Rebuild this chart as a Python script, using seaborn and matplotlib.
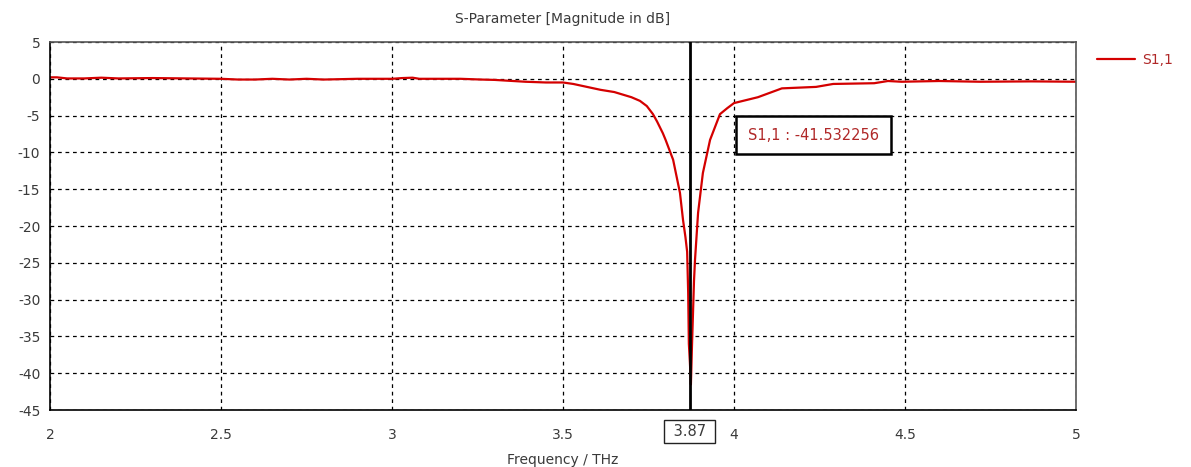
import numpy as np
import pandas as pd
import matplotlib
matplotlib.use("Agg")
import matplotlib.pyplot as plt
import seaborn as sns

# ---- data ----
freq_thz = [2.00, 2.02, 2.05, 2.10, 2.15, 2.20, 2.30, 2.40, 2.50, 2.55, 2.60, 2.65,
            2.70, 2.75, 2.80, 2.90, 3.00, 3.03, 3.06, 3.08, 3.20, 3.26, 3.30, 3.39,
            3.45, 3.50, 3.53, 3.57, 3.61, 3.65, 3.70, 3.725, 3.745, 3.763, 3.775,
            3.792, 3.800, 3.822, 3.842, 3.851, 3.858, 3.863, 3.866, 3.868, 3.871,
            3.874, 3.877, 3.880, 3.883, 3.886, 3.895, 3.909, 3.930, 3.959, 3.980,
            4.00, 4.07, 4.14, 4.24, 4.29, 4.41, 4.45, 4.49, 4.60, 4.72, 4.87, 5.00]
s11_db = [0.2, 0.2, 0.05, 0.05, 0.15, 0.05, 0.1, 0.05, 0.0, -0.1, -0.1, 0.0,
          -0.1, 0.0, -0.1, 0.0, 0.0, 0.1, 0.15, 0.0, 0.0, -0.1, -0.15, -0.4,
          -0.5, -0.5, -0.7, -1.1, -1.5, -1.8, -2.5, -3.0, -3.7, -4.8, -5.8,
          -7.4, -8.3, -11.0, -15.5, -19.2, -21.5, -23.5, -29.0, -36.0, -38.5,
          -41.532256, -36.5, -32.0, -27.5, -24.6, -18.2, -12.8, -8.3, -4.8, -4.0,
          -3.3, -2.5, -1.3, -1.1, -0.7, -0.6, -0.3, -0.4, -0.3, -0.4, -0.35, -0.4]
x_ticks = [2, 2.5, 3, 3.5, 4, 4.5, 5]
x_tick_labels = ["2", "2.5", "3", "3.5", "4", "4.5", "5"]
y_ticks = [5, 0, -5, -10, -15, -20, -25, -30, -35, -40, -45]
marker_freq = 3.87
marker_label = "3.87"
marker_value_text = "S1,1 : -41.532256"
series_name = "S1,1"

df = pd.DataFrame({"Frequency": freq_thz, "S": s11_db})

sns.set_style("white")
plt.rcParams["font.family"] = ["DejaVu Sans"]

RED = "#d40000"
TXT = "#3a3a3a"

fig = plt.figure(figsize=(11.91, 4.67), dpi=100)
ax = fig.add_axes([50 / 1191, 1 - 410 / 467, 1026 / 1191, 368 / 467])

sns.lineplot(data=df, x="Frequency", y="S", ax=ax, color=RED, linewidth=1.6,
             estimator=None, sort=False, label=series_name, legend=False)

ax.set_xlim(2, 5)
ax.set_ylim(-45, 5)
ax.set_xticks(x_ticks)
ax.set_xticklabels(x_tick_labels)
ax.set_yticks(y_ticks)
ax.set_yticklabels([str(v) for v in y_ticks])
ax.tick_params(axis="both", labelsize=10, colors=TXT, length=4, width=1,
               direction="out", pad=3)
ax.tick_params(axis="x", pad=9, color="black")
ax.tick_params(axis="y", color="black")
for lab in ax.get_xticklabels() + ax.get_yticklabels():
    lab.set_color(TXT)

ax.grid(True, color="black", linestyle=(0, (3, 3)), linewidth=0.9)
for side in ["left", "bottom"]:
    ax.spines[side].set_color("black")
    ax.spines[side].set_linewidth(1.2)
for side in ["top", "right"]:
    ax.spines[side].set_color("#555555")
    ax.spines[side].set_linewidth(1.2)
    ax.spines[side].set_visible(True)

ax.set_xlabel("Frequency / THz", fontsize=10, color=TXT, labelpad=8)
ax.set_ylabel("")
ax.set_title("S-Parameter [Magnitude in dB]", fontsize=10, color=TXT, pad=14)

# marker line
ax.axvline(marker_freq, color="black", linewidth=2, zorder=5)
ax.annotate(f" {marker_label} ", xy=(marker_freq, 0), xycoords=("data", "axes fraction"),
            xytext=(0, -15.5), textcoords="offset points", ha="center", va="center",
            fontsize=10.5, color=TXT,
            bbox=dict(boxstyle="square,pad=0.3", fc="white", ec="#222222", lw=1))

# marker value box
ax.text(0.744, 0.747, marker_value_text, transform=ax.transAxes, ha="center",
        va="center", fontsize=10.5, color="#b02828", zorder=6,
        bbox=dict(boxstyle="square,pad=0.8", fc="white", ec="black", lw=1.8))

# legend outside right
handles, labels = ax.get_legend_handles_labels()
leg = fig.legend(handles, labels, loc="center left",
                 bbox_to_anchor=(1084 / 1191, 1 - 60 / 467), frameon=False,
                 fontsize=10, handlelength=2.8, handletextpad=0.5)
for t in leg.get_texts():
    t.set_color("#b02828")

fig.savefig("out.png", dpi=100, facecolor="white")
